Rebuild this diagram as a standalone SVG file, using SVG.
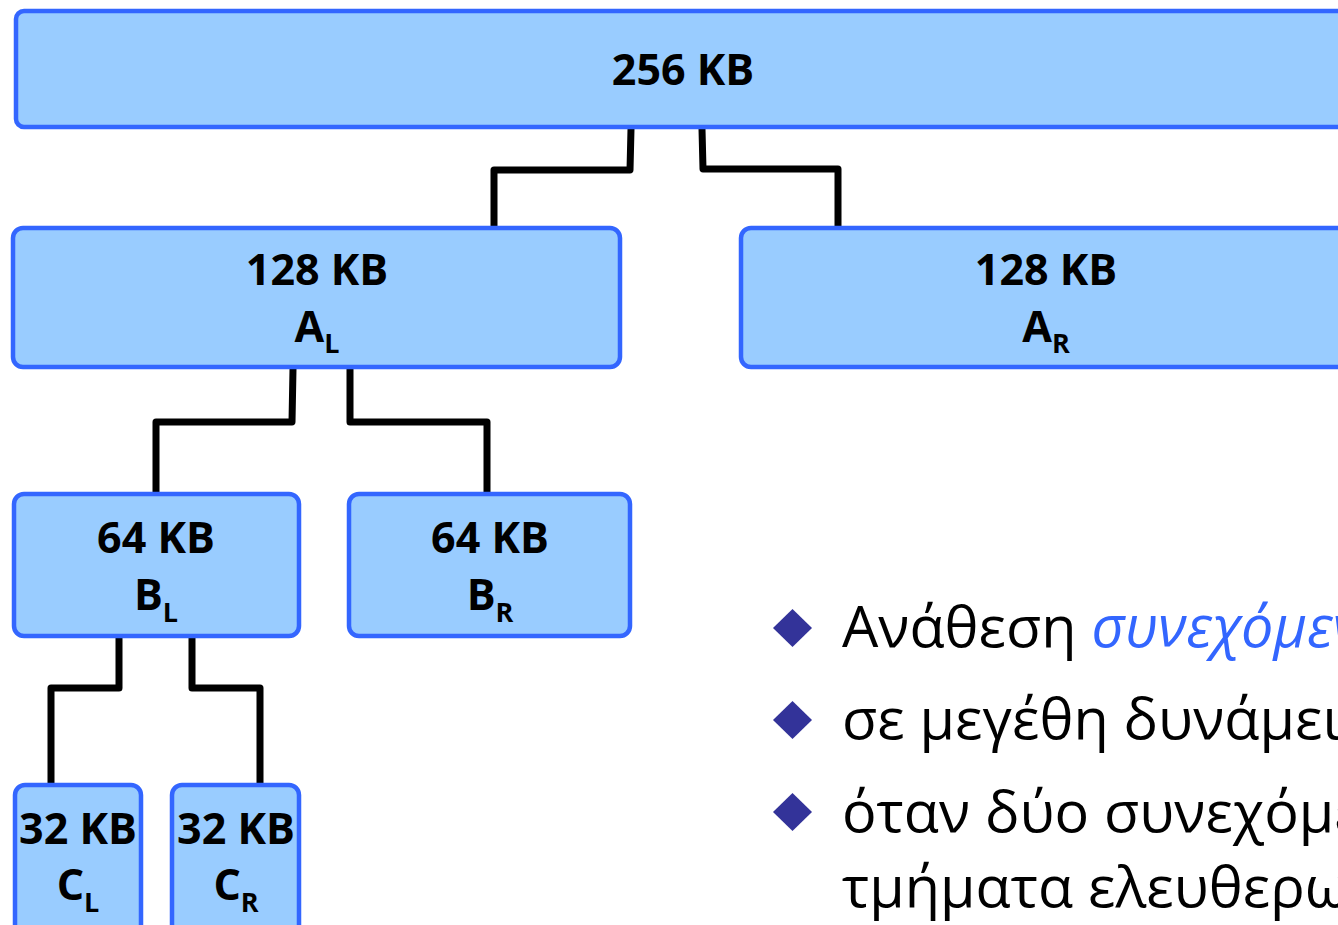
<svg xmlns="http://www.w3.org/2000/svg" width="1338" height="925" viewBox="0 0 1338 925">
  <defs>
    <style>
      .box { fill: #99ccff; stroke: #3366ff; stroke-width: 4.5; }
      .lbl { font-family: "Open Sans", "Noto Sans", "Liberation Sans", sans-serif; font-weight: 700; font-size: 43px; fill: #000; text-anchor: middle; }
      .sub { font-size: 27px; }
      .conn { fill: none; stroke: #000; stroke-width: 7; stroke-linejoin: round; }
      .bul { fill: #333399; }
      .txt { font-family: "Open Sans", "Noto Sans", "DejaVu Sans", sans-serif; font-size: 57.5px; fill: #000; }
      .em { font-style: italic; fill: #3366ff; }
    </style>
  </defs>
  <rect width="1338" height="925" fill="#ffffff"/>

  <g id="connectors">
    <path class="conn" d="M631,129 L630,170 L494,170 L494,226"/>
    <path class="conn" d="M702,129 L703,169 L838,169 L838,226"/>
    <path class="conn" d="M293,369 L292,422 L156,422 L156,493"/>
    <path class="conn" d="M350,369 L350,422 L487,422 L487,493"/>
    <path class="conn" d="M119,637 L119,688 L51,688 L51,783"/>
    <path class="conn" d="M192,637 L192,688 L260,688 L260,783"/>
  </g>

  <g id="node-256">
    <rect class="box" x="16" y="11" width="1360" height="116" rx="8"/>
    <text class="lbl" x="683" y="85">256 KB</text>
  </g>
  <g id="node-AL">
    <rect class="box" x="13" y="228" width="607" height="139" rx="10"/>
    <text class="lbl" x="317" y="285">128 KB</text>
    <text class="lbl" x="317" y="342">A<tspan class="sub" dy="11">L</tspan></text>
  </g>
  <g id="node-AR">
    <rect class="box" x="741" y="228" width="700" height="139" rx="10"/>
    <text class="lbl" x="1046" y="285">128 KB</text>
    <text class="lbl" x="1046" y="342">A<tspan class="sub" dy="11">R</tspan></text>
  </g>
  <g id="node-BL">
    <rect class="box" x="14" y="494" width="285" height="142" rx="10"/>
    <text class="lbl" x="156" y="553">64 KB</text>
    <text class="lbl" x="156" y="610">B<tspan class="sub" dy="12">L</tspan></text>
  </g>
  <g id="node-BR">
    <rect class="box" x="349" y="494" width="281" height="142" rx="10"/>
    <text class="lbl" x="490" y="553">64 KB</text>
    <text class="lbl" x="490" y="610">B<tspan class="sub" dy="12">R</tspan></text>
  </g>
  <g id="node-CL">
    <rect class="box" x="15" y="785" width="126" height="170" rx="10"/>
    <text class="lbl" x="78" y="844">32 KB</text>
    <text class="lbl" x="78" y="900">C<tspan class="sub" dy="12">L</tspan></text>
  </g>
  <g id="node-CR">
    <rect class="box" x="172" y="785" width="127" height="170" rx="10"/>
    <text class="lbl" x="236" y="844">32 KB</text>
    <text class="lbl" x="236" y="900">C<tspan class="sub" dy="12">R</tspan></text>
  </g>

  <g id="bullets">
    <polygon class="bul" points="792.5,609 812,628 792.5,647 773,628"/>
    <polygon class="bul" points="792.5,701 812,720 792.5,739 773,720"/>
    <polygon class="bul" points="792.5,793 812,812 792.5,831 773,812"/>
    <text class="txt" x="842" y="647">Ανάθεση <tspan class="em">συνεχόμεν</tspan></text>
    <text class="txt" x="842" y="739">σε μεγέθη δυνάμεις</text>
    <text class="txt" x="842" y="832">όταν δύο συνεχόμεν</text>
    <text class="txt" x="842" y="907">τμήματα ελευθερω</text>
  </g>
</svg>
